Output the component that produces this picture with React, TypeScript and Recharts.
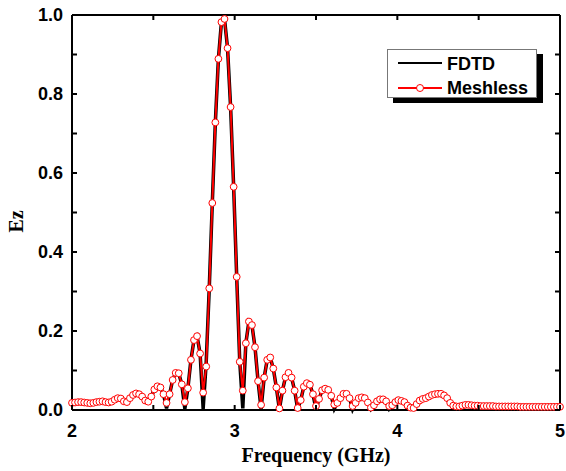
import { LineChart, Line, XAxis, YAxis, Legend } from 'recharts';

// sampling grid: 160 steps from 2 to 5 GHz
const freqStart = 2;
const freqStep = 0.01875;

const meshless = [
  0.018, 0.019, 0.020, 0.020, 0.019, 0.018, 0.017, 0.018, 0.020, 0.021,
  0.022, 0.020, 0.019, 0.021, 0.026, 0.030, 0.029, 0.022, 0.020, 0.030,
  0.038, 0.042, 0.040, 0.034, 0.024, 0.021, 0.034, 0.052, 0.060, 0.057,
  0.040, 0.018, 0.040, 0.076, 0.094, 0.093, 0.065, 0.020, 0.055, 0.127,
  0.177, 0.187, 0.143, 0.044, 0.110, 0.308, 0.524, 0.728, 0.889, 0.982,
  0.990, 0.916, 0.767, 0.565, 0.337, 0.122, 0.049, 0.169, 0.224, 0.215,
  0.159, 0.073, 0.013, 0.082, 0.127, 0.133, 0.105, 0.057, 0.004, 0.049,
  0.083, 0.094, 0.082, 0.049, 0.005, 0.025, 0.059, 0.068, 0.064, 0.040,
  0.010, 0.028, 0.050, 0.054, 0.051, 0.036, 0.014, 0.018, 0.030, 0.041,
  0.041, 0.030, 0.010, 0.018, 0.030, 0.032, 0.030, 0.019, 0.006, 0.012,
  0.022, 0.027, 0.027, 0.022, 0.010, 0.012, 0.020, 0.025, 0.023, 0.020,
  0.011, 0.006, 0.005, 0.015, 0.024, 0.028, 0.030, 0.034, 0.038, 0.040,
  0.041, 0.041, 0.037, 0.030, 0.018, 0.011, 0.009, 0.009, 0.011, 0.013,
  0.013, 0.012, 0.011, 0.011, 0.010, 0.010, 0.010, 0.010, 0.010, 0.009,
  0.009, 0.009, 0.009, 0.009, 0.009, 0.009, 0.009, 0.008, 0.008, 0.008,
  0.008, 0.008, 0.008, 0.008, 0.008, 0.008, 0.008, 0.008, 0.008, 0.008,
  0.008,
];

const fdtd = [
  0.018, 0.019, 0.020, 0.020, 0.019, 0.018, 0.017, 0.018, 0.020, 0.021,
  0.022, 0.020, 0.019, 0.021, 0.026, 0.030, 0.029, 0.022, 0.018, 0.030,
  0.038, 0.042, 0.040, 0.034, 0.020, 0.021, 0.034, 0.052, 0.060, 0.057,
  0.040, 0.004, 0.040, 0.076, 0.094, 0.093, 0.065, 0.003, 0.055, 0.127,
  0.177, 0.187, 0.143, 0.003, 0.120, 0.308, 0.524, 0.728, 0.889, 0.982,
  0.990, 0.916, 0.767, 0.565, 0.337, 0.122, 0.004, 0.169, 0.224, 0.215,
  0.159, 0.073, 0.003, 0.082, 0.127, 0.133, 0.105, 0.057, 0.002, 0.049,
  0.083, 0.094, 0.082, 0.049, 0.002, 0.025, 0.059, 0.068, 0.064, 0.040,
  0.002, 0.028, 0.050, 0.054, 0.051, 0.036, 0.003, 0.018, 0.030, 0.041,
  0.041, 0.030, 0.002, 0.018, 0.030, 0.032, 0.030, 0.019, 0.002, 0.012,
  0.022, 0.027, 0.027, 0.022, 0.003, 0.012, 0.020, 0.025, 0.023, 0.020,
  0.011, 0.002, 0.002, 0.015, 0.024, 0.027, 0.027, 0.031, 0.035, 0.037,
  0.038, 0.037, 0.033, 0.026, 0.016, 0.011, 0.009, 0.009, 0.011, 0.013,
  0.013, 0.012, 0.011, 0.011, 0.010, 0.010, 0.010, 0.010, 0.010, 0.009,
  0.009, 0.009, 0.009, 0.009, 0.009, 0.009, 0.009, 0.008, 0.008, 0.008,
  0.008, 0.008, 0.008, 0.008, 0.008, 0.008, 0.008, 0.008, 0.008, 0.008,
  0.008,
];

const xTicks = [2, 2.5, 3, 3.5, 4, 4.5, 5];
const yTicks = [0, 0.1, 0.2, 0.3, 0.4, 0.5, 0.6, 0.7, 0.8, 0.9, 1.0];

const data = meshless.map((m, i) => ({
  f: freqStart + i * freqStep,
  meshless: m,
  fdtd: fdtd[i],
}));

const tickFont = { fontFamily: 'Liberation Sans, Arial, sans-serif', fontWeight: 700, fontSize: 18, fill: '#000' };
const titleFont = { fontFamily: 'Liberation Serif, Times New Roman, serif', fontWeight: 700, fontSize: 20, fill: '#000' };
const frame = { stroke: '#000', strokeWidth: 2 };
const TICK = 5;

// inward ticks (Origin style); labels only on the major ones
function BottomTick({ x, y, payload }: any) {
  const v = payload.value;
  return (
    <g>
      <line x1={x} x2={x} y1={y} y2={y - TICK} {...frame} />
      {Number.isInteger(v) && (
        <text x={x} y={y + 14} dy="0.72em" textAnchor="middle" style={tickFont}>{v}</text>
      )}
    </g>
  );
}

function TopTick({ x, y }: any) {
  return <line x1={x} x2={x} y1={y} y2={y + TICK} {...frame} />;
}

function LeftTick({ x, y, payload }: any) {
  const v = payload.value;
  return (
    <g>
      <line x1={x} x2={x + TICK} y1={y} y2={y} {...frame} />
      {Math.round(v * 10) % 2 === 0 && (
        <text x={x - 9} y={y} dy="0.36em" textAnchor="end" style={tickFont}>{v.toFixed(1)}</text>
      )}
    </g>
  );
}

function RightTick({ x, y }: any) {
  return <line x1={x} x2={x - TICK} y1={y} y2={y} {...frame} />;
}

function LegendBox() {
  return (
    <div
      style={{
        width: 150,
        height: 49,
        background: '#fff',
        border: '1px solid #777',
        boxShadow: '6px 5px 0 #000',
        boxSizing: 'border-box',
        position: 'relative',
      }}
    >
      <svg width={150} height={49} style={{ position: 'absolute', left: -1, top: -1 }}>
        <line x1={11} x2={55} y1={14} y2={14} stroke="#000" strokeWidth={2} />
        <text x={60} y={21} style={tickFont}>FDTD</text>
        <line x1={11} x2={55} y1={39} y2={39} stroke="#f00" strokeWidth={2} />
        <circle cx={33} cy={39} r={3.5} fill="#fff" stroke="#f00" strokeWidth={1} />
        <text x={60} y={45} style={tickFont}>Meshless</text>
      </svg>
    </div>
  );
}

function EzLabel(props: any) {
  const vb = props.viewBox || { x: 0, y: 15, width: 72, height: 395 };
  const cx = 16;
  const cy = vb.y + vb.height / 2 + 9;
  return (
    <text
      x={cx}
      y={cy}
      transform={`rotate(-90 ${cx} ${cy})`}
      textAnchor="middle"
      dominantBaseline="central"
      style={titleFont}
    >
      Ez
    </text>
  );
}

export default function App() {
  return (
    <div style={{ position: 'absolute', left: 0, top: 0, background: '#fff' }}>
      <LineChart width={566} height={471} data={data} margin={{ top: 14, right: 5, bottom: 0, left: 0 }}>
        <XAxis
          dataKey="f"
          type="number"
          domain={[2, 5]}
          ticks={xTicks}
          height={61}
          tickSize={0}
          tickMargin={0}
          tickLine={false}
          axisLine={frame}
          tick={<BottomTick />}
          label={{ value: 'Frequency (GHz)', position: 'insideBottom', offset: 9, style: titleFont }}
        />
        <XAxis
          xAxisId="top"
          orientation="top"
          dataKey="f"
          type="number"
          domain={[2, 5]}
          ticks={xTicks}
          height={1}
          tickSize={0}
          tickMargin={0}
          tickLine={false}
          axisLine={frame}
          tick={<TopTick />}
        />
        <YAxis
          type="number"
          domain={[0, 1]}
          ticks={yTicks}
          width={72}
          tickSize={0}
          tickMargin={0}
          tickLine={false}
          axisLine={frame}
          tick={<LeftTick />}
          label={<EzLabel />}
        />
        <YAxis
          yAxisId="right"
          orientation="right"
          type="number"
          domain={[0, 1]}
          ticks={yTicks}
          width={1}
          tickSize={0}
          tickMargin={0}
          tickLine={false}
          axisLine={frame}
          tick={<RightTick />}
        />
        <Legend
          layout="horizontal"
          verticalAlign="middle"
          align="center"
          content={() => <LegendBox />}
          wrapperStyle={{ left: 387, top: 49, width: 'auto', height: 'auto' }}
        />
        {/* invisible series so the top/right frame axes get a domain */}
        <Line
          xAxisId="top"
          yAxisId="right"
          dataKey="fdtd"
          stroke="none"
          dot={false}
          legendType="none"
          isAnimationActive={false}
        />
        <Line
          dataKey="fdtd"
          name="FDTD"
          stroke="#000"
          strokeWidth={3.5}
          dot={false}
          isAnimationActive={false}
        />
        <Line
          dataKey="meshless"
          name="Meshless"
          stroke="#f00"
          strokeWidth={2}
          dot={{ r: 3.4, fill: '#fff', stroke: '#f00', strokeWidth: 1 }}
          isAnimationActive={false}
        />
      </LineChart>
    </div>
  );
}
